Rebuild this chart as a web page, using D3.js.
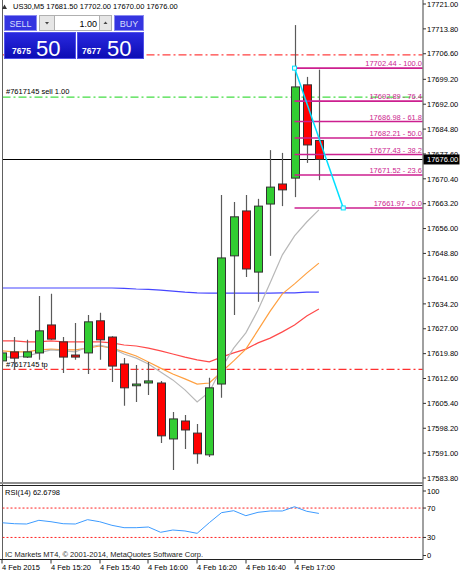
<!DOCTYPE html>
<meta charset="utf-8">
<style>
  body{ margin:0; background:#fff; }
  svg text{ font-family:"Liberation Sans", Arial, sans-serif; }
</style>
<svg width="460" height="574"></svg>
<script src="https://d3js.org/d3.v7.min.js"></script>
<script>

var svg = d3.select("svg");

// ---- data (US30, M5, 4 Feb 2015) ----
var times  = ["15:00","15:05","15:10","15:15","15:20","15:25","15:30","15:35","15:40","15:45",
              "15:50","15:55","16:00","16:05","16:10","16:15","16:20","16:25","16:30","16:35",
              "16:40","16:45","16:50","16:55","17:00","17:05","17:10"];
var opens  = [17617.7,17620.3,17618.8,17620.0,17628.1,17623.2,17619.4,17620.0,17629.3,17624.6,
              17616.8,17610.5,17611.3,17611.3,17595.1,17600.3,17596.8,17590.5,17611.0,17648.1,
              17661.1,17643.4,17663.1,17668.9,17670.6,17697.6,17681.5];
var highs  = [17620.9,17624.6,17623.8,17636.5,17637.1,17624.6,17628.7,17631.0,17631.6,17624.8,
              17618.5,17616.5,17617.4,17611.9,17602.9,17602.0,17599.4,17612.8,17665.7,17663.7,
              17665.7,17664.6,17678.7,17677.9,17714.9,17699.9,17702.0];
var lows   = [17616.5,17615.1,17618.5,17618.0,17623.8,17614.2,17618.0,17613.9,17618.0,17611.6,
              17604.7,17605.8,17607.8,17593.9,17586.1,17592.2,17587.9,17589.9,17607.0,17631.0,
              17642.0,17634.8,17648.1,17662.5,17665.1,17675.0,17670.0];
var closes = [17620.0,17618.5,17620.3,17626.4,17624.0,17618.8,17618.8,17629.0,17623.8,17616.2,
              17609.9,17611.0,17611.9,17596.0,17600.9,17597.7,17590.8,17609.9,17647.5,17659.4,
              17644.3,17662.5,17668.0,17667.2,17697.0,17680.2,17676.0];

// moving averages
var maGrey   = [17618.8,17618.8,17619.1,17620.0,17620.9,17620.6,17620.3,17621.7,17622.3,17621.4,
                17619.7,17618.5,17616.8,17614.5,17612.2,17609.3,17605.8,17608.7,17615.6,17621.4,
                17625.8,17632.4,17640.3,17648.4,17653.9,17657.9,17661.4];
var maOrange = [17620.6,17620.3,17620.3,17620.9,17621.1,17620.9,17620.9,17621.4,17622.0,17621.4,
                17620.3,17619.1,17617.4,17615.6,17613.9,17612.5,17611.0,17611.3,17614.5,17617.7,
                17621.1,17626.6,17632.1,17637.1,17640.0,17643.1,17646.0];
var maRed    = [17623.5,17623.5,17623.2,17623.2,17623.5,17623.2,17623.2,17623.2,17623.2,17622.9,
                17622.3,17622.0,17621.4,17620.6,17619.7,17618.8,17618.0,17617.4,17618.8,17620.0,
                17621.1,17622.9,17624.3,17626.1,17628.1,17630.7,17632.7];
var maBlue   = [17638.8,17638.8,17638.8,17638.8,17638.8,17638.8,17638.8,17638.8,17638.8,17638.8,
                17638.7,17638.5,17638.4,17638.2,17637.9,17637.6,17637.4,17637.3,17637.3,17637.3,
                17637.3,17637.3,17637.3,17637.4,17637.4,17637.6,17637.6];

var rsi = [50.0,48.7,48.3,53.3,51.4,48.7,48.3,54.2,51.4,46.5,43.3,43.3,44.2,37.0,40.1,38.8,
           35.6,50.1,63.7,66.4,59.6,64.2,66.0,66.0,71.8,65.6,62.6798];

var priceTicks = [17721.00,17713.80,17706.60,17699.20,17692.00,17684.80,17677.60,17670.40,17663.20,17656.00,
                  17648.80,17641.60,17634.20,17627.00,17619.80,17612.60,17605.40,17598.20,17591.00,17583.80];
var rsiTicks = [100,70,30,0];
var rsiLevels = [70,30];
var timeLabelIdx  = [0,4,8,12,16,20,24];
var timeLabelText = ["4 Feb 2015","4 Feb 15:20","4 Feb 15:40","4 Feb 16:00","4 Feb 16:20","4 Feb 16:40","4 Feb 17:00"];

// fibo retracement
var fibLevels = [100,76.4,61.8,50,38.2,23.6,0];
var fibHigh = 17702.44, fibLow = 17661.97;
var fibFromIdx = 24, fibToIdx = 28;

// order lines
var orderOpen = 17694.2, orderSL = 17706.4, orderTP = 17615.4;
var bid = 17676.00;

// ---- scales ----
var x = d3.scaleLinear().domain([0, 26]).range([2.3, 318.9]);
var y = d3.scaleLinear().domain([17583.8, 17721]).range([478, 4]);
var yr = d3.scaleLinear().domain([0, 100]).range([559.5, 486]);
var bodyW = 8;

var left = 2.5, right = 423, mainBottom = 483, rsiTop = 485, rsiBottom = 559.5;

svg.append("defs").append("clipPath").attr("id","mainclip")
  .append("rect").attr("x", left).attr("y", 0).attr("width", right-left).attr("height", mainBottom);
svg.select("defs").append("clipPath").attr("id","rsiclip")
  .append("rect").attr("x", left).attr("y", rsiTop).attr("width", right-left).attr("height", rsiBottom-rsiTop);

var grad = svg.select("defs").append("linearGradient").attr("id","blueg")
  .attr("x1",0).attr("y1",0).attr("x2",0).attr("y2",1);
grad.append("stop").attr("offset","0%").attr("stop-color","#2a2ae0");
grad.append("stop").attr("offset","100%").attr("stop-color","#0c0cb4");

var main = svg.append("g").attr("clip-path","url(#mainclip)");

// order lines
function hline(p, color, dash){
  main.append("line").attr("x1", left).attr("x2", right)
    .attr("y1", y(p)+0.5).attr("y2", y(p)+0.5)
    .attr("stroke", color).attr("stroke-width", 1.2).attr("stroke-dasharray", dash);
}
hline(orderSL, "#ff4040", "8,3,2,3");
hline(orderOpen, "#44dd44", "8,3,2,3");
hline(orderTP, "#ff3030", "8,3,2,3");

main.append("text").attr("x", 6).attr("y", y(orderOpen)-3).attr("font-size", 7.5).text("#7617145 sell 1.00");
main.append("text").attr("x", 6).attr("y", y(orderTP)-1.5).attr("font-size", 7.5).text("#7617145 tp");

// moving averages
var idx = d3.range(times.length);
function maLine(vals, color){
  main.append("path")
    .attr("d", d3.line().x(function(i){ return x(i); }).y(function(i){ return y(vals[i]); })(idx))
    .attr("fill","none").attr("stroke", color).attr("stroke-width", 1.2);
}
maLine(maBlue, "#4646ff");
maLine(maRed, "#ff4a4a");
maLine(maOrange, "#ffa040");
maLine(maGrey, "#b8b8b8");

// bid line
main.append("line").attr("x1", left).attr("x2", right)
  .attr("y1", Math.round(y(bid))+0.5).attr("y2", Math.round(y(bid))+0.5)
  .attr("stroke", "#000").attr("stroke-width", 1);

// candles
var candles = main.append("g").selectAll("g").data(idx).enter().append("g");
candles.append("line")
  .attr("x1", function(i){ return Math.round(x(i))+0.5; })
  .attr("x2", function(i){ return Math.round(x(i))+0.5; })
  .attr("y1", function(i){ return y(highs[i]); })
  .attr("y2", function(i){ return y(lows[i]); })
  .attr("stroke", "#5a5a5a").attr("stroke-width", 1.2);
candles.append("rect")
  .attr("x", function(i){ return Math.round(x(i)) - bodyW/2 + 0.5; })
  .attr("y", function(i){ return y(Math.max(opens[i], closes[i])); })
  .attr("width", bodyW)
  .attr("height", function(i){ return Math.max(1.5, Math.abs(y(opens[i]) - y(closes[i]))); })
  .attr("fill", function(i){ return closes[i] >= opens[i] ? "#32cd32" : "#ff0000"; })
  .attr("stroke", "#333").attr("stroke-width", 1);

// fibonacci
var fibColor = "#cc1f8f";
fibLevels.forEach(function(lv){
  var p = fibLow + (fibHigh - fibLow) * lv / 100;
  main.append("line").attr("x1", x(fibFromIdx)).attr("x2", right)
    .attr("y1", y(p)).attr("y2", y(p))
    .attr("stroke", fibColor).attr("stroke-width", 1.6);
  main.append("text").attr("x", right - 1).attr("y", y(p) - 2)
    .attr("text-anchor","end").attr("font-size", 7.5).attr("fill", fibColor)
    .text(p.toFixed(2) + " - " + lv.toFixed(1));
});
main.append("line")
  .attr("x1", x(fibFromIdx)).attr("y1", y(fibHigh))
  .attr("x2", x(fibToIdx)).attr("y2", y(fibLow))
  .attr("stroke", "#00e0ff").attr("stroke-width", 1.5);
[[fibFromIdx, fibHigh],[fibToIdx, fibLow]].forEach(function(pt){
  main.append("rect").attr("x", x(pt[0])-2).attr("y", y(pt[1])-2).attr("width", 4).attr("height", 4)
    .attr("fill","#e8fdff").attr("stroke","#00e0ff").attr("stroke-width", 1);
});

// frames
svg.append("line").attr("x1", left).attr("x2", left).attr("y1", 0).attr("y2", rsiBottom)
  .attr("stroke", "#606060").attr("stroke-width", 1);
svg.append("line").attr("x1", 0).attr("x2", right).attr("y1", mainBottom).attr("y2", mainBottom)
  .attr("stroke", "#909090").attr("stroke-width", 2);
svg.append("line").attr("x1", 0).attr("x2", right).attr("y1", rsiTop+0.5).attr("y2", rsiTop+0.5)
  .attr("stroke", "#202020").attr("stroke-width", 1);
svg.append("line").attr("x1", 0).attr("x2", right).attr("y1", rsiBottom).attr("y2", rsiBottom)
  .attr("stroke", "#202020").attr("stroke-width", 1);
svg.append("line").attr("x1", right).attr("x2", right).attr("y1", 0).attr("y2", rsiBottom)
  .attr("stroke", "#808080").attr("stroke-width", 1.5);

// price axis
var pa = svg.append("g");
priceTicks.forEach(function(p){
  pa.append("line").attr("x1", right).attr("x2", right+3).attr("y1", y(p)).attr("y2", y(p)).attr("stroke","#333");
  pa.append("text").attr("x", right+4).attr("y", y(p)+2.7).attr("font-size", 7.5).text(p.toFixed(2));
});
pa.append("rect").attr("x", right+0.5).attr("y", y(bid)-5).attr("width", 36).attr("height", 10).attr("fill","#000");
pa.append("text").attr("x", right+4).attr("y", y(bid)+2.8).attr("font-size", 7.5).attr("fill","#fff").text(bid.toFixed(2));

// RSI panel
var rp = svg.append("g").attr("clip-path","url(#rsiclip)");
rsiLevels.forEach(function(lv){
  rp.append("line").attr("x1", left).attr("x2", right).attr("y1", yr(lv)).attr("y2", yr(lv))
    .attr("stroke","#ff2020").attr("stroke-width",1).attr("stroke-dasharray","2,2");
});
rp.append("path")
  .attr("d", d3.line().x(function(i){ return x(i); }).y(function(i){ return yr(rsi[i]); })(idx))
  .attr("fill","none").attr("stroke","#3d9bff").attr("stroke-width",1);
svg.append("text").attr("x", 5).attr("y", 494.5).attr("font-size", 7.5).text("RSI(14) " + rsi[rsi.length-1].toFixed(4));
svg.append("text").attr("x", 5).attr("y", 557).attr("font-size", 7.5).attr("fill","#222")
  .text("IC Markets MT4, \u00a9 2001-2014, MetaQuotes Software Corp.");
rsiTicks.forEach(function(v){
  var yy = yr(v);
  if (v === 100) yy += 5; else if (v === 0) yy -= 4;
  svg.append("line").attr("x1", right).attr("x2", right+3).attr("y1", yy).attr("y2", yy).attr("stroke","#333");
  svg.append("text").attr("x", right+4).attr("y", yy+2.7).attr("font-size", 7.5).text(v);
});

// time axis
timeLabelIdx.forEach(function(i, k){
  var tx = Math.round(x(i));
  svg.append("line").attr("x1", tx).attr("x2", tx).attr("y1", rsiBottom).attr("y2", rsiBottom+4).attr("stroke","#333");
  svg.append("text").attr("x", tx).attr("y", 570).attr("font-size", 7.5).text(timeLabelText[k]);
});

// header
svg.append("path").attr("d","M2,9 L4.5,4.5 L7,9 Z").attr("fill","#333");
svg.append("text").attr("x", 13).attr("y", 9).attr("font-size", 7.5)
  .text("US30,M5  " + [opens[26], highs[26], lows[26], closes[26]].map(function(v){ return v.toFixed(2); }).join(" "));

// one click trading panel
var tp = svg.append("g");
tp.append("rect").attr("x", 4.5).attr("y", 15.5).attr("width", 32).attr("height", 15).attr("fill","#3535e0").attr("stroke","#8a8af0");
tp.append("text").attr("x", 20.5).attr("y", 26.5).attr("text-anchor","middle").attr("font-size", 9).attr("fill","#d8defc").text("SELL");
tp.append("rect").attr("x", 39.5).attr("y", 15.5).attr("width", 15).attr("height", 15).attr("fill","#e6e6e6").attr("stroke","#b0b0b0");
tp.append("path").attr("d","M45,22 L49,22 L47,24.5 Z").attr("fill","#444");
tp.append("rect").attr("x", 54.5).attr("y", 15.5).attr("width", 45).attr("height", 15).attr("fill","#fff").attr("stroke","#b0b0b0");
tp.append("text").attr("x", 97).attr("y", 26.5).attr("text-anchor","end").attr("font-size", 9).text("1.00");
tp.append("rect").attr("x", 99.5).attr("y", 15.5).attr("width", 12).attr("height", 15).attr("fill","#e6e6e6").attr("stroke","#b0b0b0");
tp.append("path").attr("d","M103.5,24 L107.5,24 L105.5,21.5 Z").attr("fill","#444");
tp.append("rect").attr("x", 114.5).attr("y", 15.5).attr("width", 29).attr("height", 15).attr("fill","#3535e0").attr("stroke","#8a8af0");
tp.append("text").attr("x", 129).attr("y", 26.5).attr("text-anchor","middle").attr("font-size", 9).attr("fill","#d8defc").text("BUY");

tp.append("rect").attr("x", 4.5).attr("y", 32.5).attr("width", 71).attr("height", 26).attr("fill","url(#blueg)").attr("stroke","#5050e8");
tp.append("rect").attr("x", 77.5).attr("y", 32.5).attr("width", 66).attr("height", 26).attr("fill","url(#blueg)").attr("stroke","#5050e8");
tp.append("text").attr("x", 12).attr("y", 54).attr("font-size", 8.5).attr("font-weight","bold").attr("fill","#fff").text("7675");
tp.append("text").attr("x", 36).attr("y", 56).attr("font-size", 22).attr("fill","#fff").text("50");
tp.append("text").attr("x", 82).attr("y", 54).attr("font-size", 8.5).attr("font-weight","bold").attr("fill","#fff").text("7677");
tp.append("text").attr("x", 107).attr("y", 56).attr("font-size", 22).attr("fill","#fff").text("50");

</script>
